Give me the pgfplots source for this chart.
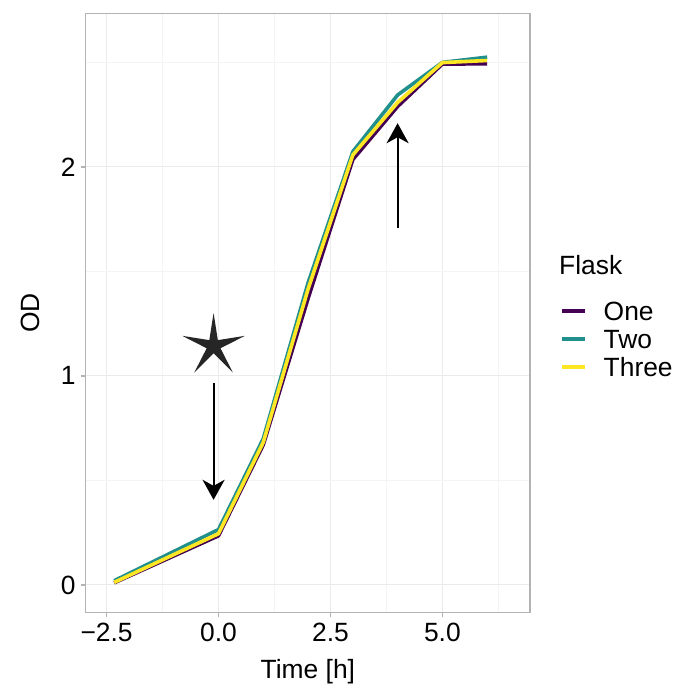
\documentclass[border=0pt]{standalone}
\usepackage{fontspec}
\setmainfont{Liberation Sans}
\usepackage{pgfplots}
\pgfplotsset{compat=1.18}
\usetikzlibrary{arrows.meta}

\definecolor{vOne}{HTML}{440154}
\definecolor{vTwo}{HTML}{21908C}
\definecolor{vThree}{HTML}{FDE725}
\definecolor{panelborder}{HTML}{B3B3B3}
\definecolor{gridmaj}{HTML}{EBEBEB}
\definecolor{gridmin}{HTML}{F4F4F4}

% thin five-pointed star used as a marker
\pgfdeclareplotmark{thinstar}{%
  \pgfpathmoveto{\pgfpointpolar{90}{\pgfplotmarksize}}%
  \pgfpathlineto{\pgfpointpolar{126}{0.22*\pgfplotmarksize}}%
  \pgfpathlineto{\pgfpointpolar{162}{\pgfplotmarksize}}%
  \pgfpathlineto{\pgfpointpolar{198}{0.22*\pgfplotmarksize}}%
  \pgfpathlineto{\pgfpointpolar{234}{\pgfplotmarksize}}%
  \pgfpathlineto{\pgfpointpolar{270}{0.22*\pgfplotmarksize}}%
  \pgfpathlineto{\pgfpointpolar{306}{\pgfplotmarksize}}%
  \pgfpathlineto{\pgfpointpolar{342}{0.22*\pgfplotmarksize}}%
  \pgfpathlineto{\pgfpointpolar{18}{\pgfplotmarksize}}%
  \pgfpathlineto{\pgfpointpolar{54}{0.22*\pgfplotmarksize}}%
  \pgfpathclose
  \pgfusepathqfill
}

\newcommand{\bigfont}{\fontsize{26.5}{30}\selectfont}

\begin{document}
\begin{tikzpicture}[x=1bp,y=1bp]
\path[use as bounding box] (-85.7,-73.7) rectangle (592.3,612.3);
\begin{axis}[
  at={(0,0)}, anchor=south west,
  scale only axis, width=444.3bp, height=598.6bp,
  xmin=-2.966, xmax=6.957, ymin=-0.131, ymax=2.733,
  xtick={-2.5,0,2.5,5}, xticklabels={−2.5,0.0,2.5,5.0},
  ytick={0,1,2}, yticklabels={0,1,2},
  minor xtick={-1.25,1.25,3.75,6.25}, minor ytick={0.5,1.5,2.5},
  grid=both,
  major grid style={gridmaj, line width=1bp},
  minor grid style={gridmin, line width=0.6bp},
  axis line style={panelborder, line width=1.3bp},
  tick align=outside, major tick length=5bp, minor tick length=0pt,
  tick style={panelborder, line width=1.3bp},
  xtick pos=bottom, ytick pos=left,
  tick label style={font=\bigfont, text=black},
  xticklabel style={inner sep=0pt, yshift=-6bp},
  yticklabel style={inner sep=0pt, xshift=-5bp},
  xlabel={Time [h]}, ylabel={OD},
  every axis x label/.style={at={(axis description cs:0.5,-0.1099)}, anchor=base, font=\bigfont},
  every axis y label/.style={at={(axis description cs:-0.104,0.5)}, rotate=90, anchor=base, font=\bigfont},
  legend style={at={(axis description cs:1.0675,0.5184)}, anchor=north west,
    draw=none, fill=none, inner sep=0pt, outer sep=0pt,
    font=\bigfont, row sep=0pt, column sep=17bp,
    nodes={inner sep=0pt, outer sep=0pt, text height=19bp, text depth=8.8bp, anchor=base west}},
  legend cell align=left,
  legend image code/.code={\draw[#1, line width=4bp, line cap=butt] (-1.5bp,9.5bp) -- (21.2bp,9.5bp);},
  clip=false,
]
\addplot[vOne, line width=3.6bp, line join=round] coordinates {
  (-2.33,0.010) (0,0.235) (1,0.670) (2,1.370) (3,2.035) (4,2.289) (5,2.492) (6,2.493)};
\addlegendentry{One}
\addplot[vTwo, line width=3.6bp, line join=round] coordinates {
  (-2.33,0.020) (0,0.265) (1,0.700) (2,1.445) (3,2.073) (4,2.344) (5,2.500) (6,2.525)};
\addlegendentry{Two}
\addplot[vThree, line width=3.6bp, line join=round] coordinates {
  (-2.33,0.012) (0,0.245) (1,0.682) (2,1.415) (3,2.057) (4,2.308) (5,2.499) (6,2.509)};
\addlegendentry{Three}

% annotations: marker and arrows
\addplot[forget plot, only marks, mark=thinstar, mark size=33bp, color=black!85]
  coordinates {(-0.11,1.143)};
\addplot[forget plot, black, line width=2bp, -{Stealth[length=20bp, width=22bp, inset=6bp]}]
  coordinates {(-0.11,0.968) (-0.11,0.407)};
\addplot[forget plot, black, line width=2bp, -{Stealth[length=20bp, width=22bp, inset=6bp]}]
  coordinates {(4.0,1.707) (4.0,2.209)};

\node[anchor=base west, inner sep=0pt, font=\bigfont] at (axis description cs:1.0653,0.5635) {Flask};
\end{axis}
\end{tikzpicture}
\end{document}
